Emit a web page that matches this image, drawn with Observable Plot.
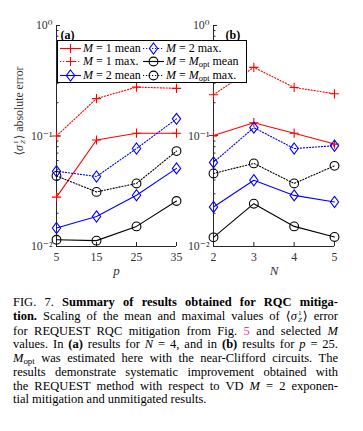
<!DOCTYPE html>
<html><head><meta charset="utf-8">
<script src="https://cdn.jsdelivr.net/npm/d3@7"></script>
<script src="https://cdn.jsdelivr.net/npm/@observablehq/plot@0.6"></script>
<style>
body{margin:0;background:#fff;}
#wrap{position:relative;width:363px;height:431px;overflow:hidden;font-family:"Liberation Serif","DejaVu Serif",serif;color:#000;background:#fff;}
.panel{position:absolute;top:0;}
#legend{position:absolute;left:57px;top:40px;width:188px;height:41px;border:1px solid #000;background:#fff;z-index:5;font-size:12px;}
.lg{position:absolute;display:flex;align-items:center;white-space:nowrap;height:13px;line-height:13px;}
.lg svg{margin-right:2px;overflow:visible;}
#ylab{position:absolute;left:20px;top:111px;transform:translate(-50%,-50%) rotate(-90deg);white-space:nowrap;font-size:11.8px;color:#333;}
.ss{display:inline-flex;flex-direction:column;font-size:7px;line-height:7.5px;vertical-align:middle;margin-left:1px;margin-right:1px;}
#caption{position:absolute;left:13px;top:296px;width:325px;font-size:12.5px;line-height:13.7px;}
#caption div{text-align:justify;text-align-last:justify;white-space:nowrap;}
#caption div.last{text-align-last:left;}
.pink{color:#e4389a;}
sub.opt{font-size:0.7em;vertical-align:-0.25em;line-height:0;}
</style></head><body><div id="wrap">
<div id="pa" class="panel" style="left:0"></div>
<div id="pb" class="panel" style="left:180px"></div>
<div id="legend"></div>
<div id="ylab">⟨<i>σ</i><span class="ss"><span>1</span><span><i>Z</i></span></span>⟩ absolute error</div>
<div id="caption">
<div>FIG. 7. <b>Summary of results obtained for RQC mitiga-</b></div>
<div><b>tion.</b> Scaling of the mean and maximal values of ⟨<i>σ</i><span class="ss"><span>1</span><span><i>Z</i></span></span>⟩ error</div>
<div>for REQUEST RQC mitigation from Fig. <span class="pink">5</span> and selected <i>M</i></div>
<div>values. In <b>(a)</b> results for <i>N</i> = 4, and in <b>(b)</b> results for <i>p</i> = 25.</div>
<div><i>M</i><sub class="opt">opt</sub> was estimated here with the near-Clifford circuits. The</div>
<div>results demonstrate systematic improvement obtained with</div>
<div>the REQUEST method with respect to VD <i>M</i> = 2 exponen-</div>
<div class="last">tial mitigation and unmitigated results.</div>
</div>
</div>
<script>
// ---------------- data ----------------
const pValues = [5, 15, 25, 35];
const nValues = [2, 3, 4, 5];
const pTickLabels = ["5", "15", "25", "35"];
const nTickLabels = ["2", "3", "4", "5"];
const yMajor = [0.01, 0.1, 1];
const yTickLabels = ["10⁻²", "10⁻¹", "10⁰"];
const yMinor = [0.02,0.03,0.04,0.05,0.06,0.07,0.08,0.09,0.2,0.3,0.4,0.5,0.6,0.7,0.8,0.9];

const seriesM = ["1", "1", "2", "2", "opt", "opt"];
const seriesStat = ["mean", "max.", "mean", "max.", "mean", "max."];

// panel (a): N = 4, versus p
const a_M1_mean   = [0.028, 0.092, 0.106, 0.106];
const a_M1_max    = [0.100, 0.218, 0.277, 0.270];
const a_M2_mean   = [0.0147, 0.0187, 0.0291, 0.0509];
const a_M2_max    = [0.048, 0.043, 0.077, 0.143];
const a_Mopt_mean = [0.0115, 0.0113, 0.0152, 0.0258];
const a_Mopt_max  = [0.0435, 0.0312, 0.0372, 0.073];

// panel (b): p = 25, versus N
const b_M1_mean   = [0.101, 0.132, 0.106, 0.0845];
const b_M1_max    = [0.236, 0.418, 0.275, 0.241];
const b_M2_mean   = [0.0228, 0.0398, 0.029, 0.0253];
const b_M2_max    = [0.0577, 0.119, 0.077, 0.0817];
const b_Mopt_mean = [0.0121, 0.0244, 0.0152, 0.0122];
const b_Mopt_max  = [0.0458, 0.0565, 0.0372, 0.0537];

// ---------------- styles ----------------
const plusSymbol = {draw(c, size){ const r = Math.sqrt(size/Math.PI); c.moveTo(-r,0); c.lineTo(r,0); c.moveTo(0,-r); c.lineTo(0,r);} };
const diamondSymbol = {draw(c, size){ const r = Math.sqrt(size/Math.PI); c.moveTo(0,-r*1.2); c.lineTo(r*0.9,0); c.lineTo(0,r*1.2); c.lineTo(-r*0.9,0); c.closePath();} };
const styles = [
  {color:"#ff0000", dash:null, symbol:plusSymbol, r:4.6},
  {color:"#ff0000", dash:"1.2,1.8", symbol:plusSymbol, r:4.6},
  {color:"#0000ff", dash:null, symbol:diamondSymbol, r:4.6},
  {color:"#0000ff", dash:"1.2,1.8", symbol:diamondSymbol, r:4.6},
  {color:"#000000", dash:null, symbol:"circle", r:4.4},
  {color:"#000000", dash:"1.2,1.8", symbol:"circle", r:4.4}
];

function makePanel({xs, values, xTicks, xTickLabels, xLabel, tag, tagDx, width, ml, mr}) {
  const marks = [
    Plot.ruleX([xs[0]], {stroke:"#262626", strokeWidth:1}),
    Plot.ruleY([yMajor[0]], {stroke:"#262626", strokeWidth:1}),
    Plot.axisY({ticks: yMajor, tickSize: 0, tickPadding: 4, label: null, fill:"#333",
      tickFormat: d => yTickLabels[yMajor.indexOf(d)]}),
    Plot.axisY({ticks: yMajor, tickSize: -4, fill: "none", label: null, stroke:"#262626"}),
    Plot.axisY({ticks: yMinor, tickSize: -2.5, fill: "none", label: null, stroke:"#262626"}),
    Plot.axisX({ticks: xTicks, tickSize: 0, tickPadding: 6, label: null, fill:"#333",
      tickFormat: d => xTickLabels[xTicks.indexOf(d)]}),
    Plot.axisX({ticks: xTicks, tickSize: -4, fill: "none", label: null, stroke:"#262626"}),
    Plot.text([xLabel], {frameAnchor:"bottom", dy: 28, fontStyle:"italic", fontSize: 13, fill:"#333"}),
    Plot.text([tag], {frameAnchor:"top-left", dx: tagDx, dy: 5, textAnchor:"start", fontWeight:"bold", fontSize: 12})
  ];
  values.forEach((vals, si) => {
    const st = styles[si];
    const rows = vals.map((v, i) => ({x: xs[i], y: v}));
    marks.push(Plot.line(rows, {x:"x", y:"y", stroke: st.color, strokeWidth: 1.1,
      strokeDasharray: st.dash || undefined}));
    marks.push(Plot.dot(rows, {x:"x", y:"y", stroke: st.color, fill:"none", strokeWidth: 1.1,
      symbol: st.symbol, r: st.r}));
  });
  return Plot.plot({
    width, height: 290, marginLeft: ml, marginRight: mr, marginTop: 25, marginBottom: 44,
    x: {domain: [xs[0], xs[xs.length-1]], label: null},
    y: {type: "log", domain: [yMajor[0], yMajor[yMajor.length-1]], label: null},
    style: {fontFamily: '"Liberation Serif","DejaVu Serif",serif', fontSize: "11.8px", background: "transparent", overflow: "visible"},
    marks
  });
}

document.getElementById("pa").appendChild(makePanel({
  xs: pValues, values: [a_M1_mean, a_M1_max, a_M2_mean, a_M2_max, a_Mopt_mean, a_Mopt_max],
  xTicks: pValues, xTickLabels: pTickLabels, xLabel: "p", tag: "(a)", tagDx: 4,
  width: 180, ml: 56, mr: 4
}));
document.getElementById("pb").appendChild(makePanel({
  xs: nValues, values: [b_M1_mean, b_M1_max, b_M2_mean, b_M2_max, b_Mopt_mean, b_Mopt_max],
  xTicks: nValues, xTickLabels: nTickLabels, xLabel: "N", tag: "(b)", tagDx: 12,
  width: 183, ml: 33, mr: 29
}));

// ---------------- legend ----------------
const legend = document.getElementById("legend");
const colX = [2, 85];
const rowY = [1, 14, 27.5];
seriesM.forEach((m, i) => {
  const st = styles[i];
  const col = Math.floor(i / 3), row = i % 3;
  const div = document.createElement("div");
  div.className = "lg";
  div.style.left = colX[col] + "px";
  div.style.top = rowY[row] + "px";
  const sym = typeof st.symbol === "string" ? d3.symbolCircle : st.symbol;
  const path = d3.symbol(sym, st.r * st.r * Math.PI)();
  div.innerHTML =
    `<svg width="21" height="13"><line x1="0" x2="21" y1="6.5" y2="6.5" stroke="${st.color}" stroke-width="1.1" ${st.dash ? `stroke-dasharray="${st.dash}"` : ""}/>` +
    `<path transform="translate(10.5,6.5)" d="${path}" fill="none" stroke="${st.color}" stroke-width="1.1"/></svg>` +
    `<span><i>M</i> = ${m === "opt" ? "<i>M</i><sub class='opt'>opt</sub>" : m} ${seriesStat[i]}</span>`;
  legend.appendChild(div);
});
</script>
</body></html>
